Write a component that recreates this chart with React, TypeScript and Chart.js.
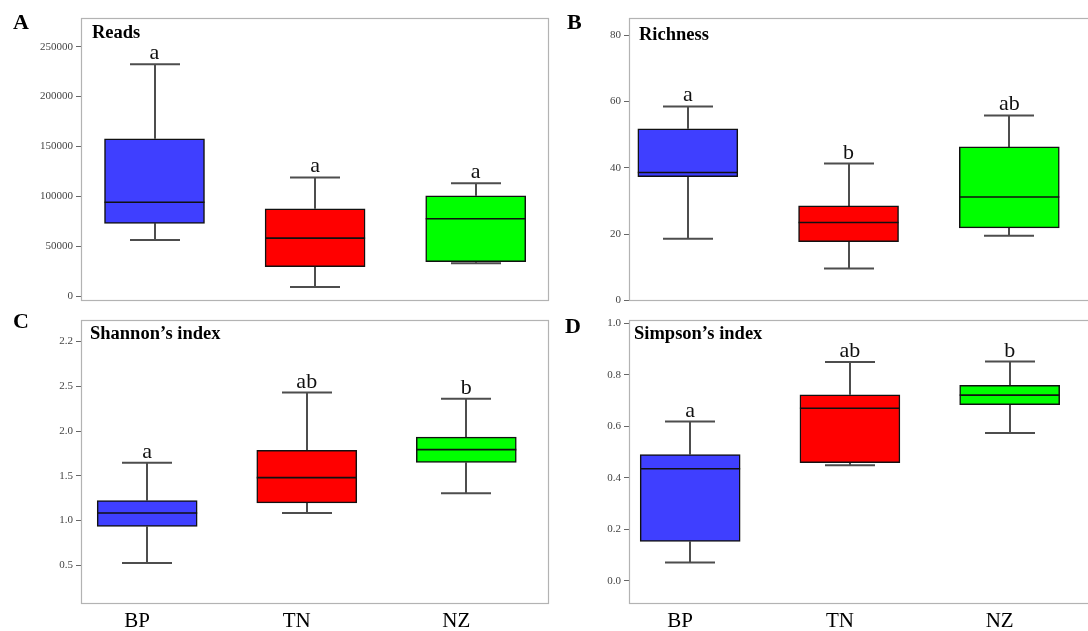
import React, { useEffect, useRef } from "react";
import { Chart, registerables } from "chart.js";

Chart.register(...registerables);

const FONT = "'Liberation Serif', 'Times New Roman', serif";

const categories = ["BP", "TN", "NZ"];
const boxColors = ["#3f3fff", "#ff0000", "#00ff00"];

// Reads
const readsMin = [56100, 9100, 32800];
const readsQ1 = [72900, 29500, 34400];
const readsMedian = [94000, 58100, 77500];
const readsQ3 = [157700, 87400, 100500];
const readsMax = [232300, 118900, 113000];
const readsLetters = ["a", "a", "a"];
const readsTicks = [0, 50000, 100000, 150000, 200000, 250000];
const readsTickLabels = ["0", "50000", "100000", "150000", "200000", "250000"];

// Richness
const richMin = [18.6, 9.6, 19.5];
const richQ1 = [37.3, 17.7, 21.9];
const richMedian = [38.6, 23.5, 31.2];
const richQ3 = [51.8, 28.5, 46.3];
const richMax = [58.5, 41.3, 55.8];
const richLetters = ["a", "b", "ab"];
const richTicks = [0, 20, 40, 60, 80];
const richTickLabels = ["0", "20", "40", "60", "80"];

// Shannon's index
const shanMin = [0.525, 1.084, 1.304];
const shanQ1 = [0.933, 1.197, 1.649];
const shanMedian = [1.084, 1.48, 1.792];
const shanQ3 = [1.224, 1.785, 1.932];
const shanMax = [1.646, 2.431, 2.361];
const shanLetters = ["a", "ab", "b"];
const shanTicks = [0.5, 1.0, 1.5, 2.0, 2.5, 3.0];
const shanTickLabels = ["0.5", "1.0", "1.5", "2.0", "2.5", "2.2"];

// Simpson's index
const simpMin = [0.071, 0.449, 0.574];
const simpQ1 = [0.153, 0.459, 0.684];
const simpMedian = [0.435, 0.67, 0.721];
const simpQ3 = [0.49, 0.722, 0.759];
const simpMax = [0.618, 0.849, 0.851];
const simpLetters = ["a", "ab", "b"];
const simpTicks = [0, 0.2, 0.4, 0.6, 0.8, 1.0];
const simpTickLabels = ["0.0", "0.2", "0.4", "0.6", "0.8", "1.0"];

type PanelCfg = {
  key: string;
  left: number; top: number; width: number; height: number;
  padTop: number; padRight: number; padBottom: number;
  yWidth: number; showX: boolean; xHeight: number;
  xMin: number; xMax: number; yMin: number; yMax: number;
  yTicks: number[]; yLabels: string[];
  mins: number[]; q1s: number[]; meds: number[]; q3s: number[]; maxs: number[];
  letters: string[];
  title: string; titleX: number; titleBase: number;
  panel: string; panelX: number; panelBase: number;
};

const panels: PanelCfg[] = [
  {
    key: "A", left: 0, top: 0, width: 560, height: 310,
    padTop: 18, padRight: 12, padBottom: 5, yWidth: 81, showX: false, xHeight: 0,
    xMin: -0.4577, xMax: 2.4502, yMin: -4370, yMax: 278700,
    yTicks: readsTicks, yLabels: readsTickLabels,
    mins: readsMin, q1s: readsQ1, meds: readsMedian, q3s: readsQ3, maxs: readsMax,
    letters: readsLetters,
    title: "Reads", titleX: 92, titleBase: 38,
    panel: "A", panelX: 13, panelBase: 29,
  },
  {
    key: "B", left: 560, top: 0, width: 530, height: 310,
    padTop: 18, padRight: 0, padBottom: 5, yWidth: 69, showX: false, xHeight: 0,
    xMin: -0.3658, xMax: 2.502, yMin: 0, yMax: 85.2,
    yTicks: richTicks, yLabels: richTickLabels,
    mins: richMin, q1s: richQ1, meds: richMedian, q3s: richQ3, maxs: richMax,
    letters: richLetters,
    title: "Richness", titleX: 639, titleBase: 40,
    panel: "B", panelX: 567, panelBase: 29,
  },
  {
    key: "C", left: 0, top: 310, width: 560, height: 321,
    padTop: 6, padRight: 12, padBottom: 0, yWidth: 81, showX: true, xHeight: 28,
    xMin: -0.4149, xMax: 2.512, yMin: 0.078, yMax: 3.246,
    yTicks: shanTicks, yLabels: shanTickLabels,
    mins: shanMin, q1s: shanQ1, meds: shanMedian, q3s: shanQ3, maxs: shanMax,
    letters: shanLetters,
    title: "Shannon\u2019s index", titleX: 90, titleBase: 339,
    panel: "C", panelX: 13, panelBase: 328,
  },
  {
    key: "D", left: 560, top: 310, width: 530, height: 321,
    padTop: 6, padRight: 0, padBottom: 0, yWidth: 69, showX: true, xHeight: 28,
    xMin: -0.383, xMax: 2.503, yMin: -0.086, yMax: 1.014,
    yTicks: simpTicks, yLabels: simpTickLabels,
    mins: simpMin, q1s: simpQ1, meds: simpMedian, q3s: simpQ3, maxs: simpMax,
    letters: simpLetters,
    title: "Simpson\u2019s index", titleX: 634, titleBase: 339,
    panel: "D", panelX: 565, panelBase: 333,
  },
];

function makeChart(canvas: HTMLCanvasElement, p: PanelCfg) {
  const boxPlugin = {
    id: "boxplot" + p.key,
    beforeDatasetsDraw(chart: any) {
      const ctx = chart.ctx;
      const xs = chart.scales.x;
      const ys = chart.scales.y;
      ctx.save();
      ctx.strokeStyle = "#4d4d4d";
      ctx.lineWidth = 2;
      categories.forEach((_, i) => {
        const x = Math.round(xs.getPixelForValue(i));
        const yMax = ys.getPixelForValue(p.maxs[i]);
        const yMin = ys.getPixelForValue(p.mins[i]);
        const yQ1 = ys.getPixelForValue(p.q1s[i]);
        const yQ3 = ys.getPixelForValue(p.q3s[i]);
        ctx.beginPath();
        ctx.moveTo(x, yQ3);
        ctx.lineTo(x, yMax);
        ctx.moveTo(x, yQ1);
        ctx.lineTo(x, yMin);
        ctx.moveTo(x - 25, yMax);
        ctx.lineTo(x + 25, yMax);
        ctx.moveTo(x - 25, yMin);
        ctx.lineTo(x + 25, yMin);
        ctx.stroke();
      });
      ctx.restore();
    },
    afterDatasetsDraw(chart: any) {
      const ctx = chart.ctx;
      const xs = chart.scales.x;
      const ys = chart.scales.y;
      const meta = chart.getDatasetMeta(0);
      const a = chart.chartArea;
      ctx.save();
      // medians
      ctx.strokeStyle = "#111";
      ctx.lineWidth = 1.6;
      categories.forEach((_, i) => {
        const bar = meta.data[i];
        const half = bar.width / 2;
        const y = ys.getPixelForValue(p.meds[i]);
        ctx.beginPath();
        ctx.moveTo(bar.x - half, y);
        ctx.lineTo(bar.x + half, y);
        ctx.stroke();
      });
      // frame
      ctx.strokeStyle = "#b3b3b3";
      ctx.lineWidth = 1.2;
      ctx.strokeRect(Math.round(a.left) + 0.5, Math.round(a.top) + 0.5,
        Math.round(a.right - a.left), Math.round(a.bottom - a.top));
      // significance letters
      ctx.fillStyle = "#111";
      ctx.font = `22px ${FONT}`;
      ctx.textAlign = "center";
      ctx.textBaseline = "alphabetic";
      categories.forEach((_, i) => {
        const x = xs.getPixelForValue(i);
        const y = ys.getPixelForValue(p.maxs[i]) - 5;
        ctx.fillText(p.letters[i], x, y);
      });
      // title
      ctx.textAlign = "left";
      ctx.fillStyle = "#000";
      ctx.font = `bold 18.5px ${FONT}`;
      ctx.fillText(p.title, p.titleX - p.left, p.titleBase - p.top);
      // panel letter
      ctx.font = `bold 22px ${FONT}`;
      ctx.fillText(p.panel, p.panelX - p.left, p.panelBase - p.top);
      ctx.restore();
    },
  };

  return new Chart(canvas, {
    type: "bar",
    data: {
      datasets: [
        {
          data: categories.map((_, i) => ({ x: i, y: [p.q1s[i], p.q3s[i]] })) as any,
          backgroundColor: boxColors,
          borderColor: "#111",
          borderWidth: 1.5,
          borderSkipped: false,
          barThickness: 100,
          grouped: false,
        } as any,
      ],
    },
    options: {
      responsive: false,
      animation: false,
      devicePixelRatio: 1,
      layout: {
        autoPadding: false,
        padding: { top: p.padTop, right: p.padRight, bottom: p.padBottom, left: 0 },
      },
      plugins: { legend: { display: false }, tooltip: { enabled: false } },
      scales: {
        x: {
          type: "linear",
          offset: false,
          min: p.xMin,
          max: p.xMax,
          display: p.showX,
          grid: { display: false, offset: false },
          border: { display: false },
          ticks: {
            autoSkip: false,
            maxRotation: 0,
            padding: -2,
            labelOffset: -10,
            color: "#000",
            font: { family: FONT, size: 21 },
            callback: (v: any) => categories[Math.round(Number(v))] ?? "",
          },
          afterBuildTicks: (s: any) => {
            s.ticks = categories.map((_, i) => ({ value: i }));
          },
          afterFit: (s: any) => {
            s.height = p.xHeight;
          },
        },
        y: {
          type: "linear",
          min: p.yMin,
          max: p.yMax,
          grid: {
            display: true,
            drawOnChartArea: false,
            drawTicks: true,
            tickLength: 5,
            color: "#666",
            lineWidth: 1,
          },
          border: { display: false },
          ticks: {
            padding: 3,
            color: "#444",
            font: { family: FONT, size: 11 },
            callback: (_v: any, idx: number) => p.yLabels[idx],
          },
          afterBuildTicks: (s: any) => {
            s.ticks = p.yTicks.map((v) => ({ value: v }));
          },
          afterFit: (s: any) => {
            s.width = p.yWidth;
          },
        },
      },
    } as any,
    plugins: [boxPlugin],
  });
}

export default function App() {
  const refs = useRef<(HTMLCanvasElement | null)[]>([]);

  useEffect(() => {
    document.body.style.margin = "0";
    const charts = panels.map((p, i) => makeChart(refs.current[i] as HTMLCanvasElement, p));
    return () => charts.forEach((c) => c.destroy());
  }, []);

  return (
    <div
      style={{
        position: "relative",
        width: 1088,
        height: 631,
        overflow: "hidden",
        background: "#fff",
      }}
    >
      {panels.map((p, i) => (
        <canvas
          key={p.key}
          ref={(el) => {
            refs.current[i] = el;
          }}
          width={p.width}
          height={p.height}
          style={{
            position: "absolute",
            left: p.left,
            top: p.top,
            width: p.width,
            height: p.height,
          }}
        />
      ))}
    </div>
  );
}
